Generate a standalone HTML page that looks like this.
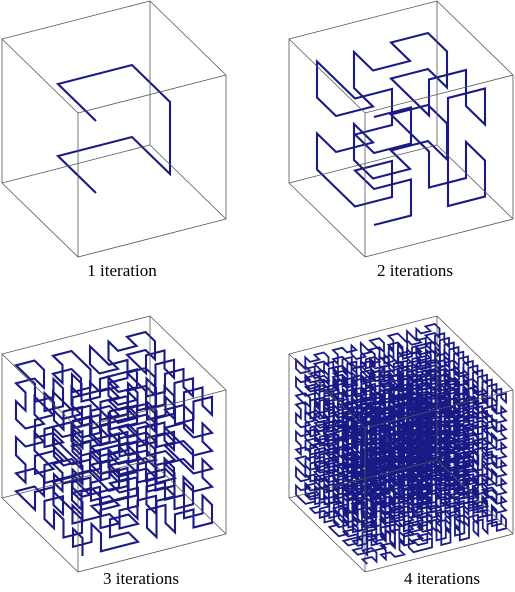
<!DOCTYPE html>
<html><head><meta charset="utf-8">
<style>
html,body{margin:0;padding:0;background:#fff;}
svg{display:block;}
</style></head>
<body>
<svg id="chart" width="515" height="592" viewBox="0 0 515 592"></svg>
<script>
const iterations = [1, 2, 3, 4];
const labels = ["1 iteration", "2 iterations", "3 iterations", "4 iterations"];
const origins = [[78,257],[365,257],[78,572],[365,572]];
const labelPos = [[122,276],[415,276],[141,584],[442,584]];
const NS = "http://www.w3.org/2000/svg";
const svg = document.getElementById('chart');
const AX = [148,-38], AY = [-76,-74], AZ = [0,-144];

function hilbertPoint(idx, bits) {
  const n = 3;
  const X = [0,0,0];
  for (let b = bits - 1; b >= 0; b--) {
    for (let i = 0; i < n; i++) {
      const bitPos = b * n + (n - 1 - i);
      X[i] |= ((idx >> bitPos) & 1) << b;
    }
  }
  const N = 2 << (bits - 1);
  let t = X[n-1] >> 1;
  for (let i = n-1; i > 0; i--) X[i] ^= X[i-1];
  X[0] ^= t;
  for (let Q = 2; Q != N; Q <<= 1) {
    const P = Q - 1;
    for (let i = n-1; i >= 0; i--) {
      if (X[i] & Q) X[0] ^= P;
      else { t = (X[0] ^ X[i]) & P; X[0] ^= t; X[i] ^= t; }
    }
  }
  return [X[1], X[2], X[0]];
}

function proj(o, x, y, z) {
  return [o[0] + x*AX[0] + y*AY[0] + z*AZ[0], o[1] + x*AX[1] + y*AY[1] + z*AZ[1]];
}

iterations.forEach((it, k) => {
  const o = origins[k];
  const g = document.createElementNS(NS, 'g');
  
  
  svg.appendChild(g);
  const total = 1 << (3*it);
  const side = 1 << it;
  let d = '';
  for (let i = 0; i < total; i++) {
    const c = hilbertPoint(i, it);
    const p = proj(o, (c[0]+0.5)/side, (c[1]+0.5)/side, (c[2]+0.5)/side);
    d += (i ? 'L' : 'M') + p[0].toFixed(1) + ',' + p[1].toFixed(1);
  }
  const path = document.createElementNS(NS, 'path');
  path.setAttribute('d', d);
  path.setAttribute('fill', 'none');
  path.setAttribute('stroke', '#1a1a86');
  path.setAttribute('stroke-width', it === 4 ? '1.8' : '2.1');
  
  
  g.appendChild(path);
  const corners = [];
  for (let x = 0; x < 2; x++) for (let y = 0; y < 2; y++) for (let z = 0; z < 2; z++) corners.push([x,y,z]);
  let ed = '';
  for (let a = 0; a < 8; a++) for (let b = a+1; b < 8; b++) {
    const ca = corners[a], cb = corners[b];
    const diff = Math.abs(ca[0]-cb[0]) + Math.abs(ca[1]-cb[1]) + Math.abs(ca[2]-cb[2]);
    if (diff === 1) {
      const p1 = proj(o, ca[0], ca[1], ca[2]), p2 = proj(o, cb[0], cb[1], cb[2]);
      ed += 'M' + p1[0] + ',' + p1[1] + 'L' + p2[0] + ',' + p2[1];
    }
  }
  const edges = document.createElementNS(NS, 'path');
  edges.setAttribute('d', ed);
  edges.setAttribute('fill', 'none');
  edges.setAttribute('stroke', '#555');
  edges.setAttribute('stroke-width', '0.8');
  
  
  g.appendChild(edges);
  const tx = document.createElementNS(NS, 'text');
  tx.setAttribute('x', labelPos[k][0]);
  tx.setAttribute('y', labelPos[k][1]);
  tx.setAttribute('text-anchor', 'middle');
  tx.setAttribute('font-family', 'Liberation Serif, serif');
  tx.setAttribute('font-size', '17');
  tx.setAttribute('fill', '#000');
  tx.textContent = labels[k];
  
  
  g.appendChild(tx);
});
</script>
</body></html>
